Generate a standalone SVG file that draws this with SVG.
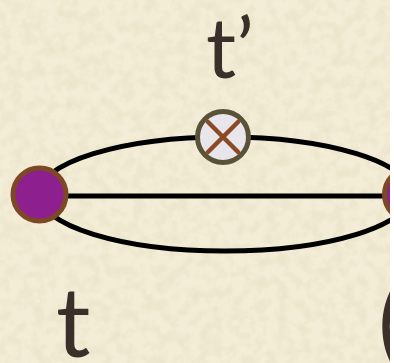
<svg xmlns="http://www.w3.org/2000/svg" width="394" height="363" viewBox="0 0 394 363">
<defs>
<filter id="paper" x="0" y="0" width="100%" height="100%">
<feTurbulence type="fractalNoise" baseFrequency="0.09" numOctaves="4" seed="7" result="n"/>
<feColorMatrix in="n" type="matrix" values="0 0 0 0 0.84  0 0 0 0 0.78  0 0 0 0 0.60  0 0 0 2.4 -0.95" result="spots"/>
<feFlood flood-color="#f3ecd6" result="base"/>
<feComposite in="spots" in2="base" operator="over"/>
</filter>
<clipPath id="clip"><rect x="0" y="0" width="390" height="363"/></clipPath>
<style>
.edge{fill:none;stroke:#000;stroke-width:5}
.lbl{font-family:Lato,"Open Sans",sans-serif;fill:#3b2f2a}
</style>
</defs>
<rect width="394" height="363" fill="#ffffff"/>
<rect width="390" height="363" filter="url(#paper)"/>
<g clip-path="url(#clip)">
<g id="connectors">
<ellipse class="edge" cx="225" cy="194" rx="186" ry="57"/>
<line class="edge" x1="39" y1="196" x2="411" y2="196"/>
</g>
<g id="node-left">
<circle cx="39.5" cy="194.5" r="26.5" fill="#8e1f8f" stroke="#7d4826" stroke-width="5"/>
</g>
<g id="node-right">
<circle cx="411" cy="194.5" r="26.5" fill="#8e1f8f" stroke="#7d4826" stroke-width="5"/>
</g>
<g id="node-cross">
<circle cx="223" cy="137" r="25.5" fill="#e8e6ea" stroke="#5a5238" stroke-width="5"/>
<path d="M208 122 L238 152 M238 122 L208 152" stroke="#8b4a26" stroke-width="4.5" stroke-linecap="round"/>
</g>
<text class="lbl" x="378" y="357" font-size="96">(</text>
</g>
<text class="lbl" x="206" y="78" font-size="84">t’</text>
<text class="lbl" x="56" y="357" font-size="96">t</text>
</svg>
